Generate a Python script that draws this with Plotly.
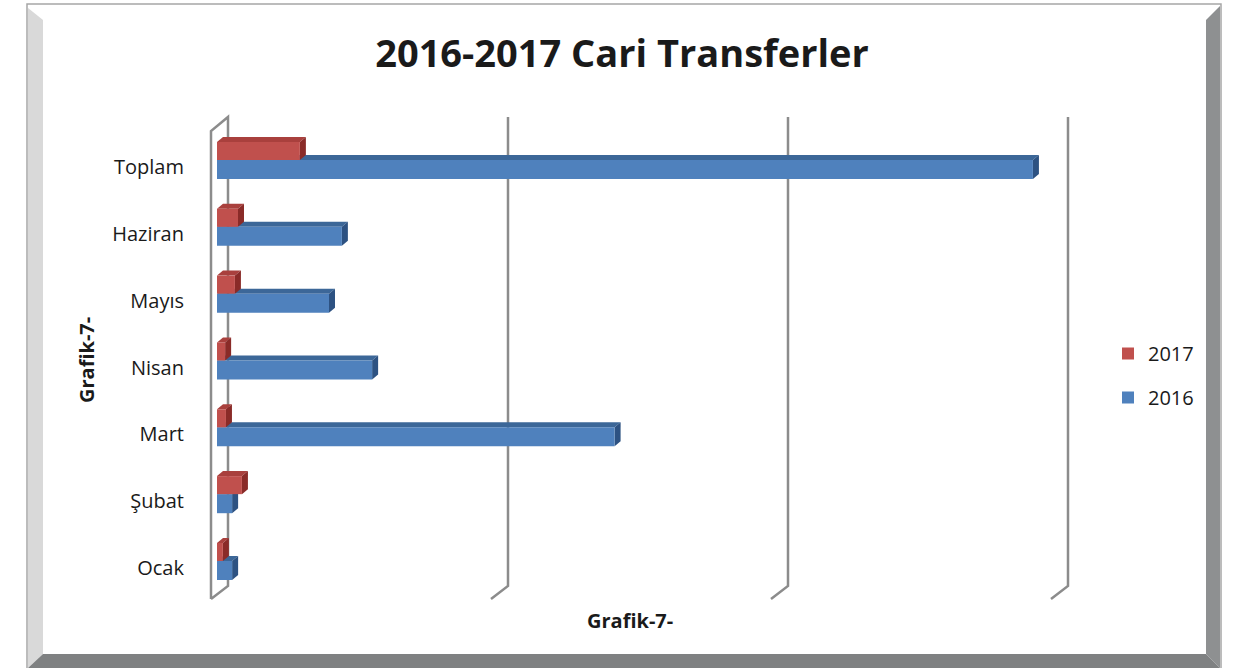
import plotly.graph_objects as go

# ---------------- data ----------------
categories = ["Ocak", "Şubat", "Mart", "Nisan", "Mayıs", "Haziran", "Toplam"]
values_2016 = [5.4, 5.4, 142.0, 55.4, 40.0, 44.6, 291.4]
values_2017 = [2.1, 8.9, 3.2, 2.9, 6.4, 7.5, 29.6]
series_names = ["2016", "2017"]
grid_values = [0, 100, 200, 300]
title_text = "2016-2017 Cari Transferler"
axis_title = "Grafik-7-"

# ---------------- layout constants ----------------
W, H = 1247, 668
L, R, T, B = 200, 1085, 110, 605          # plot area in pixels
X0_PX, PX_PER_UNIT = 217, 2.8             # value 0 at 217 px, 100 units = 280 px
TOP_CAT_PX, BOT_CAT_PX = 167, 568
n = len(categories)
PX_PER_CAT = (BOT_CAT_PX - TOP_CAT_PX) / (n - 1)
x_range = [(L - X0_PX) / PX_PER_UNIT, (R - X0_PX) / PX_PER_UNIT]
y_range = [-(B - BOT_CAT_PX) / PX_PER_CAT, (n - 1) + (TOP_CAT_PX - T) / PX_PER_CAT]
ypos = list(range(n))

def py2y(py):
    return (n - 1) + (TOP_CAT_PX - py) / PX_PER_CAT

def px2paper(px):
    return (px - L) / (R - L)

def py2paper(py):
    return (B - py) / (B - T)

FONT = "Open Sans"
RED, RED_TOP, RED_SIDE = "#C0504D", "#A9403D", "#8A2B28"
BLUE, BLUE_TOP, BLUE_SIDE = "#4F81BD", "#3C6798", "#2D5282"

W16, OFF16 = 0.285, -0.18
W17, OFF17 = 0.27, 0.105
DX = 6 / PX_PER_UNIT
DY = 5 / PX_PER_CAT

fig = go.Figure()
fig.add_trace(go.Bar(
    y=ypos, x=values_2016, orientation="h", name=series_names[0],
    width=W16, offset=OFF16, marker=dict(color=BLUE, line=dict(width=0)),
    legendgroup="a", legendrank=2,
))
fig.add_trace(go.Bar(
    y=ypos, x=values_2017, orientation="h", name=series_names[1],
    width=W17, offset=OFF17, marker=dict(color=RED, line=dict(width=0)),
    legendgroup="b", legendrank=1,
))

shapes = []
# ---- frame ----
def poly(pts, color, line_color=None, lw=0):
    path = "M " + " L ".join(f"{px2paper(x)},{py2paper(y)}" for x, y in pts) + " Z"
    return dict(type="path", xref="paper", yref="paper", path=path, fillcolor=color,
                line=dict(color=line_color or color, width=lw), layer="below")

shapes.append(poly([(27, 4), (1221, 4), (1221, 672), (27, 672)], "white", "#a6a6a6", 1.5))
shapes.append(poly([(28, 8), (43, 20), (43, 654), (28, 668)], "#d9d9d9"))
shapes.append(poly([(1206, 20), (1220, 6), (1220, 668), (1206, 654)], "#8e9091"))
shapes.append(poly([(28, 668), (43, 654), (1206, 654), (1220, 668)], "#7f8182"))

# ---- 3D-looking grid walls ----
back = (228 - X0_PX) / PX_PER_UNIT
front = (211 - X0_PX) / PX_PER_UNIT
yb_top, yb_bot = py2y(117), py2y(586)
yf_top, yf_bot = py2y(131), py2y(599)
gcol = "#8c8c8c"
for v in grid_values:
    if v == 0:
        path = (f"M {v+front},{yf_bot} L {v+front},{yf_top} L {v+back},{yb_top} "
                f"L {v+back},{yb_bot} L {v+front},{yf_bot}")
    else:
        path = f"M {v+back},{yb_top} L {v+back},{yb_bot} L {v+front},{yf_bot}"
    shapes.append(dict(type="path", xref="x", yref="y", path=path,
                       line=dict(color=gcol, width=2.5), layer="below"))

# ---- 3D faces of bars (top + side) ----
def faces(vals, width, off, top_col, side_col):
    out = []
    for i, v in enumerate(vals):
        y_lo, y_hi = i + off, i + off + width
        top = f"M 0,{y_hi} L {v},{y_hi} L {v+DX},{y_hi+DY} L {DX},{y_hi+DY} Z"
        side = f"M {v},{y_lo} L {v},{y_hi} L {v+DX},{y_hi+DY} L {v+DX},{y_lo+DY} Z"
        out.append(dict(type="path", xref="x", yref="y", path=top, fillcolor=top_col,
                        line=dict(width=0), layer="below"))
        out.append(dict(type="path", xref="x", yref="y", path=side, fillcolor=side_col,
                        line=dict(width=0), layer="below"))
    return out

shapes += faces(values_2016, W16, OFF16, BLUE_TOP, BLUE_SIDE)
shapes += faces(values_2017, W17, OFF17, RED_TOP, RED_SIDE)

annotations = [
    dict(text=f"<b>{axis_title}</b>", xref="paper", yref="paper",
         x=px2paper(86), y=py2paper(360), textangle=-90, showarrow=False,
         font=dict(family=FONT, size=20, color="#1a1a1a"), xanchor="center", yanchor="middle"),
    dict(text=f"<b>{axis_title}</b>", xref="paper", yref="paper",
         x=px2paper(630), y=py2paper(620), showarrow=False,
         font=dict(family=FONT, size=20, color="#1a1a1a"), xanchor="center", yanchor="middle"),
]

fig.update_layout(
    width=W, height=H,
    margin=dict(l=L, r=W - R, t=T, b=H - B, pad=0),
    paper_bgcolor="white", plot_bgcolor="rgba(0,0,0,0)",
    title=dict(text=f"<b>{title_text}</b>", x=622 / W, xref="container", xanchor="center",
               y=1 - 54 / H, yref="container", yanchor="middle",
               font=dict(family=FONT, size=38, color="#1a1a1a")),
    barmode="overlay",
    xaxis=dict(range=x_range, showgrid=False, zeroline=False, showline=False,
               showticklabels=False, ticks=""),
    yaxis=dict(range=y_range, tickvals=ypos, ticktext=categories, showgrid=False,
               zeroline=False, showline=False, ticks="outside", ticklen=11,
               tickcolor="rgba(0,0,0,0)",
               tickfont=dict(family=FONT, size=20, color="#1a1a1a")),
    legend=dict(x=px2paper(1108), y=py2paper(334), xanchor="left", yanchor="top",
                traceorder="grouped", tracegroupgap=15,
                font=dict(family=FONT, size=20, color="#1a1a1a"),
                bgcolor="rgba(0,0,0,0)"),
    shapes=shapes,
    annotations=annotations,
    showlegend=True,
)

fig.write_html("out.html", config={"displayModeBar": False},
               post_script="document.body.style.margin='0';document.body.style.overflow='hidden';")
